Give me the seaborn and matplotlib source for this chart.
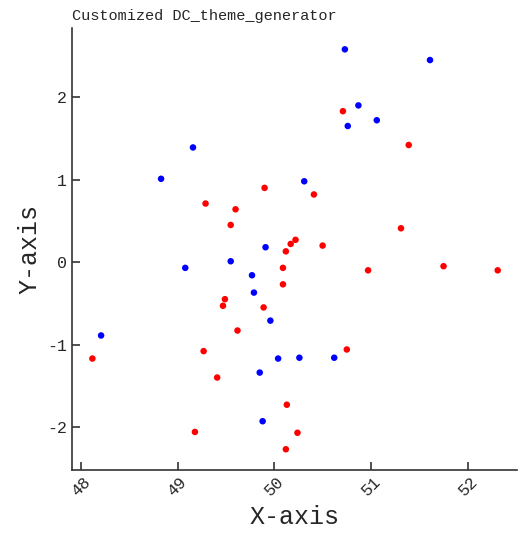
import matplotlib
matplotlib.use("Agg")
import matplotlib.pyplot as plt
import seaborn as sns
import pandas as pd

blue_x = [50.73, 51.61, 50.87, 51.06, 50.76, 49.16, 48.83, 50.31, 49.91, 49.55,
          49.08, 49.77, 49.79, 49.96, 48.21, 50.04, 50.26, 50.62, 49.85, 49.88]
blue_y = [2.58, 2.45, 1.90, 1.72, 1.65, 1.39, 1.01, 0.98, 0.18, 0.01,
          -0.07, -0.16, -0.37, -0.71, -0.89, -1.17, -1.16, -1.16, -1.34, -1.93]
red_x = [50.71, 51.39, 50.41, 49.90, 49.29, 49.60, 49.55, 51.31, 50.22, 50.17,
         50.12, 50.50, 51.75, 52.31, 50.97, 50.09, 50.09, 49.49, 49.47, 49.89,
         49.62, 50.75, 49.27, 48.12, 49.41, 50.13, 49.18, 50.24, 50.12]
red_y = [1.83, 1.42, 0.82, 0.90, 0.71, 0.64, 0.45, 0.41, 0.27, 0.22,
         0.13, 0.20, -0.05, -0.10, -0.10, -0.07, -0.27, -0.45, -0.53, -0.55,
         -0.83, -1.06, -1.08, -1.17, -1.40, -1.73, -2.06, -2.07, -2.27]
x_ticks = [48, 49, 50, 51, 52]
y_ticks = [-2, -1, 0, 1, 2]

df = pd.DataFrame({
    "x": blue_x + red_x,
    "y": blue_y + red_y,
    "group": ["blue"] * len(blue_x) + ["red"] * len(red_x),
})

sns.set_style("white")
plt.rcParams["font.family"] = ["Liberation Mono", "DejaVu Sans Mono"]

fig = plt.figure(figsize=(5.26, 5.47), dpi=100)
ax = fig.add_axes([0.137, 0.141, 0.846, 0.808])
sns.scatterplot(data=df, x="x", y="y", hue="group",
                palette={"blue": "#0000ff", "red": "#ff0000"},
                s=22, linewidth=0, legend=False, ax=ax)
ax.set_xlim(47.91, 52.51)
ax.set_ylim(-2.52, 2.84)
ax.set_xticks(x_ticks)
ax.set_yticks(y_ticks)
ax.set_xticklabels([str(t) for t in x_ticks], rotation=45, fontsize=12)
ax.set_yticklabels([str(t) for t in y_ticks], fontsize=12)
ax.tick_params(direction="in", length=6, width=1.2, color="#333333",
               bottom=True, left=True)
for s in ["top", "right"]:
    ax.spines[s].set_visible(False)
for s in ["left", "bottom"]:
    ax.spines[s].set_color("#333333")
    ax.spines[s].set_linewidth(1.2)
ax.set_xlabel("X-axis", fontsize=18)
ax.set_ylabel("Y-axis", fontsize=18)
ax.set_title("Customized DC_theme_generator", loc="left", fontsize=11)
fig.savefig("out.png", dpi=100)
